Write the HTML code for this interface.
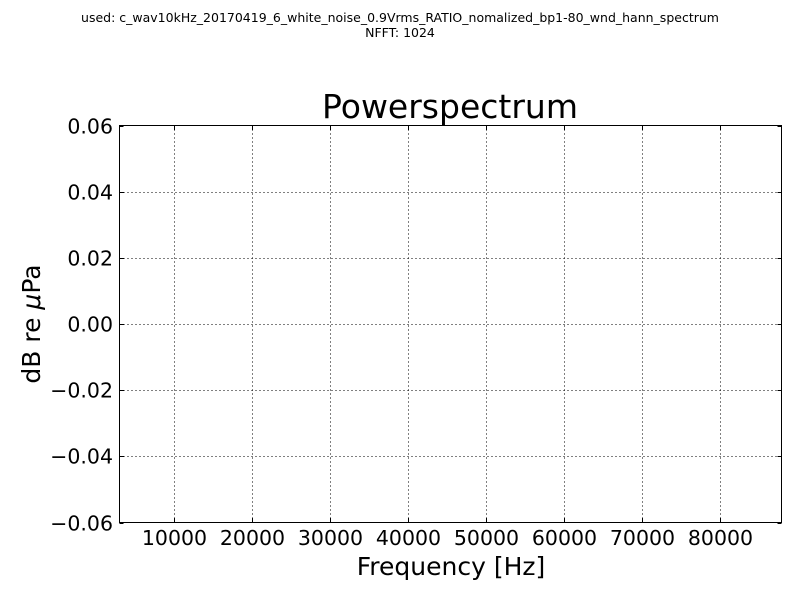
<!DOCTYPE html>
<html>
<head>
<meta charset="utf-8">
<style>
  html,body{margin:0;padding:0;background:#fff;}
  svg{display:block;font-family:"DejaVu Sans","Liberation Sans",sans-serif;}
</style>
</head>
<body>
<svg id="chart" width="800" height="600" viewBox="0 0 800 600">
  <rect x="0" y="0" width="800" height="600" fill="#fff"/>
  <text x="400" y="22" font-size="12.5" text-anchor="middle">used: c_wav10kHz_20170419_6_white_noise_0.9Vrms_RATIO_nomalized_bp1-80_wnd_hann_spectrum</text>
  <text x="400" y="37" font-size="12.5" text-anchor="middle">NFFT: 1024</text>
  <text x="450" y="118" font-size="33" text-anchor="middle">Powerspectrum</text>
  <g id="grid"></g>
  <g id="ticks"></g>
  <rect x="119.5" y="125.5" width="662" height="397" fill="none" stroke="#000" stroke-width="1"/>
  <text x="451" y="575" font-size="25" text-anchor="middle">Frequency [Hz]</text>
  <text transform="translate(40,324) rotate(-90)" font-size="25" text-anchor="middle">dB re <tspan font-style="italic">μ</tspan>Pa</text>
</svg>
<script>
const xTicks = [10000, 20000, 30000, 40000, 50000, 60000, 70000, 80000];
const yTicks = [0.06, 0.04, 0.02, 0.00, -0.02, -0.04, -0.06];
const yTickLabels = ["0.06", "0.04", "0.02", "0.00", "\u22120.02", "\u22120.04", "\u22120.06"];
const xDomain = [2949, 87949];
const yDomain = [-0.06, 0.06];

const L = 119.5, R = 781.5, T = 125.5, B = 522.5;
const NS = "http://www.w3.org/2000/svg";
function xScale(v){ return L + (v - xDomain[0]) / (xDomain[1] - xDomain[0]) * (R - L); }
function yScale(v){ return B - (v - yDomain[0]) / (yDomain[1] - yDomain[0]) * (B - T); }
function mk(tag, attrs){ const e = document.createElementNS(NS, tag); for (const k in attrs) e.setAttribute(k, attrs[k]); return e; }

const grid = document.getElementById('grid');
const ticks = document.getElementById('ticks');

xTicks.forEach(function(v){
  const x = Math.round(xScale(v)) + 0.5;
  const g = mk('line', {x1:x, x2:x, y1:T, y2:B, stroke:'#000', 'stroke-width':1, 'stroke-dasharray':'1,3'});
  
  
  grid.appendChild(g);
  const t1 = mk('line', {x1:x, x2:x, y1:B, y2:B-4, stroke:'#000'});
  
  
  ticks.appendChild(t1);
  const t2 = mk('line', {x1:x, x2:x, y1:T, y2:T+4, stroke:'#000'});
  
  
  ticks.appendChild(t2);
  const lab = mk('text', {x:x, y:545, 'font-size':20.5, 'text-anchor':'middle'});
  lab.textContent = String(v);
  
  
  ticks.appendChild(lab);
});

yTicks.forEach(function(v, i){
  const y = Math.round(yScale(v)) + 0.5;
  if (i > 0 && i < yTicks.length - 1) {
    const g = mk('line', {x1:L, x2:R, y1:y, y2:y, stroke:'#000', 'stroke-width':1, 'stroke-dasharray':'1,3'});
    
    
    grid.appendChild(g);
  }
  const t1 = mk('line', {x1:L, x2:L+4, y1:y, y2:y, stroke:'#000'});
  
  
  ticks.appendChild(t1);
  const t2 = mk('line', {x1:R, x2:R-4, y1:y, y2:y, stroke:'#000'});
  
  
  ticks.appendChild(t2);
  const lab = mk('text', {x:113, y:y+7, 'font-size':20.5, 'text-anchor':'end'});
  lab.textContent = yTickLabels[i];
  
  
  ticks.appendChild(lab);
});
</script>
</body>
</html>
